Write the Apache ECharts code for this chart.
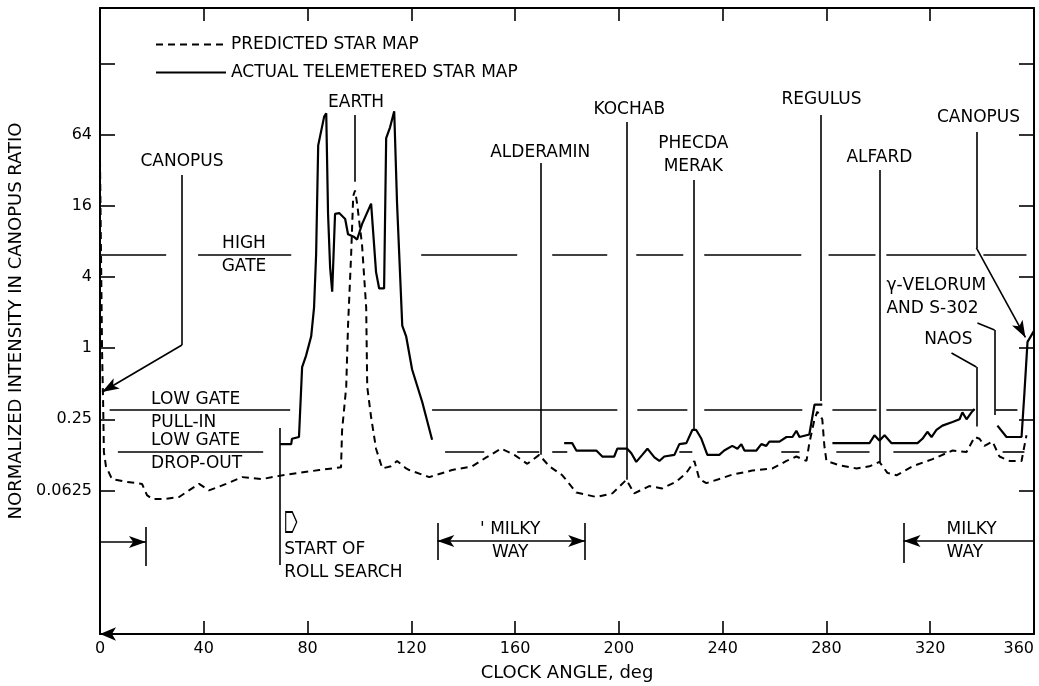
<!DOCTYPE html>
<html>
<head>
<meta charset="utf-8">
<script src="https://cdn.jsdelivr.net/npm/echarts@6/dist/echarts.min.js"></script>
<style>html,body{margin:0;padding:0;background:#fff}#main{width:1039px;height:686px}</style>
</head>
<body>
<div id="main"></div>
<script>
// clock angle (deg) and intensity (Canopus ratio)
var predictedDeg = [0, 0.8, 1.2, 1.5, 2.3, 4.6, 10.0, 16.2, 18.1, 20.1, 25.5, 30.5, 34.3, 38.2, 42.0, 48.6, 54.8, 62.5, 69.0, 76.7,
	84.5, 92.9, 93.3, 94.9, 95.6, 96.8, 97.6, 98.3, 99.1, 101.0, 102.6, 103.0, 104.5, 106.4, 108.8, 112.2, 114.5, 118.0, 119.2, 126.9,
	135.7, 143.5, 148.9, 154.6, 159.7, 164.7, 169.3, 173.2, 178.2, 183.6, 191.3, 197.5, 202.9, 205.9, 211.7, 216.7, 222.1, 226.0, 229.1, 231.0,
	233.7, 238.7, 243.7, 251.4, 259.2, 264.6, 268.4, 272.3, 273.4, 275.4, 276.5, 278.4, 279.2, 280.0, 285.0, 291.6, 296.6, 300.4, 303.5, 307.0,
	313.2, 320.9, 328.6, 334.0, 337.1, 339.0, 340.9, 344.0, 346.7, 350.6, 355.2, 356.3, 357.1];
var predictedVal = [39, 0.92, 0.35, 0.132, 0.100, 0.078, 0.074, 0.071, 0.057, 0.053, 0.053, 0.055, 0.0625, 0.071, 0.0625, 0.071, 0.081, 0.078, 0.083, 0.088,
	0.093, 0.098, 0.20, 0.47, 1.55, 6.2, 19.4, 21.6, 16.7, 7.5, 2.2, 0.47, 0.26, 0.141, 0.096, 0.100, 0.111, 0.096, 0.093, 0.081,
	0.093, 0.100, 0.119, 0.141, 0.125, 0.105, 0.125, 0.100, 0.084, 0.060, 0.055, 0.059, 0.077, 0.059, 0.068, 0.065, 0.074, 0.088, 0.111, 0.078,
	0.072, 0.078, 0.085, 0.092, 0.096, 0.111, 0.121, 0.111, 0.157, 0.25, 0.29, 0.25, 0.149, 0.111, 0.102, 0.096, 0.100, 0.109, 0.088, 0.084,
	0.100, 0.115, 0.136, 0.132, 0.177, 0.171, 0.149, 0.162, 0.121, 0.111, 0.111, 0.149, 0.183];

var actualDeg = [69.4, 73.7, 74.0, 76.7, 77.9, 79.4, 81.4, 82.5, 83.3, 84.1, 86.4, 87.2, 87.9, 88.7, 89.5, 90.6, 92.2, 94.5, 95.6, 98.0,
	99.1, 101.0, 104.5, 106.4, 107.6, 109.5, 110.3, 111.8, 113.4, 114.5, 116.5, 118.0, 120.3, 124.2, 128.0,
	150,
	178.9, 182.0, 183.6, 191.3, 193.6, 198.2, 199.4, 203.2, 204.8, 206.7, 209.0, 211.0, 213.7, 215.6, 217.5, 221.4, 223.3, 226.0, 228.3, 229.8,
	231.8, 234.1, 238.7, 240.6, 243.7, 245.7, 247.2, 248.4, 253.0, 254.9, 256.8, 258.0, 261.9, 264.6, 266.9, 268.4, 269.6, 273.4, 275.4, 278.4,
	280.5,
	282.3, 296.6, 298.5, 300.4, 302.4, 305.1, 315.1, 317.0, 318.9, 320.5, 322.4, 324.7, 328.6, 331.3, 332.4, 334.0, 335.9, 337.1,
	341,
	345.9, 349.4, 355.2, 356.3, 357.5, 360];
var actualVal = [0.154, 0.154, 0.171, 0.177, 0.69, 0.86, 1.26, 2.2, 6.2, 52, 91, 97, 13.7, 4.8, 3.0, 13.7, 13.9, 12.4, 9.2, 8.7,
	8.3, 11.2, 16.7, 4.4, 3.2, 3.2, 60, 74, 101, 16.7, 1.55, 1.26, 0.66, 0.35, 0.168,
	null,
	0.157, 0.157, 0.136, 0.136, 0.121, 0.121, 0.141, 0.141, 0.129, 0.109, 0.125, 0.141, 0.119, 0.111, 0.121, 0.125, 0.154, 0.157, 0.203, 0.203,
	0.171, 0.125, 0.125, 0.136, 0.149, 0.141, 0.154, 0.136, 0.136, 0.154, 0.149, 0.162, 0.162, 0.177, 0.177, 0.200, 0.177, 0.186, 0.333, 0.333,
	null,
	0.157, 0.157, 0.183, 0.165, 0.183, 0.157, 0.157, 0.171, 0.196, 0.177, 0.203, 0.221, 0.237, 0.25, 0.286, 0.25, 0.286, 0.306,
	null,
	0.221, 0.177, 0.177, 0.415, 1.13, 1.40];

var yTicks = [0.0625, 0.25, 1, 4, 16, 64, 256];
var yLabels = [0.0625, 0.25, 1, 4, 16, 64];

// gate levels and the pieces of each gate line (deg)
var highGate = 6.2, pullIn = 0.30, dropOut = 0.134;
var highGateSeg = [[0, 25.5], [37.8, 73.7], [123.8, 160.8], [174.3, 195.5], [206.7, 224.8], [232.9, 270.3], [280.8, 298.9], [303.1, 337.4], [340.5, 357.1]];
var pullInSeg = [[3.7, 73.3], [128, 199.4], [207.1, 226.4], [232.9, 270.7], [282.3, 299.3], [303.1, 337], [345.2, 353.6]];
var dropOutSeg = [[6.9, 62.9], [133, 148.1], [160.8, 169.3], [174.3, 180.1], [223.3, 228.3], [262.6, 269.6], [283.8, 296.6], [305.8, 326.3], [347.9, 356.3]];

// annotations: points as [deg, log4(intensity)]
var pointers = [
	{pts: [[31.6, 2.434], [31.6, 0.044], [0.8, -0.617]], arrow: true},
	{pts: [[98.3, 3.277], [98.3, 2.338]]},
	{pts: [[169.7, 2.602], [169.7, -1.5]]},
	{pts: [[203.2, 3.179], [203.2, -1.85]]},
	{pts: [[228.7, 2.363], [228.7, -1.15]]},
	{pts: [[277.7, 3.277], [277.7, -0.744]]},
	{pts: [[300.4, 2.504], [300.4, -1.6]]},
	{pts: [[337.8, 3.038], [337.8, 1.408], [356.7, 0.15]], arrow: true},
	{pts: [[338.2, 0.353], [344.8, 0.255], [344.8, -0.939]]},
	{pts: [[328.2, -0.068], [337.8, -0.265], [337.8, -1.1]]},
	{pts: [[69.4, -1.123], [69.4, -3.049]]},
	{pts: [[17.7, -2.515], [17.7, -3.063]]},
	{pts: [[0, -2.726], [17.7, -2.726]], arrow: true},
	{pts: [[130, -2.458], [130, -2.979]]},
	{pts: [[187, -2.458], [187, -2.979]]},
	{pts: [[130, -2.712], [187, -2.712]], arrow: true, both: true},
	{pts: [[309.7, -2.458], [309.7, -3.021]]},
	{pts: [[360, -2.712], [309.7, -2.712]], arrow: true}
];
var notes = [
	['CANOPUS', 31.6, 2.617, 'center'],
	['HIGH\nGATE', 55.5, 1.314, 'center'],
	['LOW GATE\nPULL-IN', 19.7, -0.89, 'left'],
	['LOW GATE\nDROP-OUT', 19.7, -1.46, 'left'],
	['EARTH', 98.7, 3.446, 'center'],
	['ALDERAMIN', 169.7, 2.743, 'center'],
	['KOCHAB', 204.0, 3.347, 'center'],
	['PHECDA\nMERAK', 228.7, 2.715, 'center'],
	['REGULUS', 278.1, 3.488, 'center'],
	['ALFARD', 300.4, 2.673, 'center'],
	['CANOPUS', 338.6, 3.235, 'center'],
	['γ-VELORUM\nAND S-302', 303.1, 0.719, 'left'],
	['NAOS', 327.0, 0.115, 'center'],
	['START OF\nROLL SEARCH', 71.0, -2.992, 'left'],
	["' MILKY\nWAY", 158.1, -2.712, 'center'],
	['MILKY\nWAY', 326.3, -2.712, 'left']
];
var rollMark = [73.7, -2.444];

var FONT = 'DejaVu Sans';
function p4(L) { return Math.pow(4, L); }
function pt(p) { return [p[0], p4(p[1])]; }

var predicted = predictedDeg.map(function (d, i) { return [d, predictedVal[i]]; });
var actual = actualDeg.map(function (d, i) { return [d, actualVal[i] == null ? '-' : actualVal[i]]; });

var lines = [];
function gate(segs, v) {
	segs.forEach(function (s) {
		lines.push([{coord: [s[0], v]}, {coord: [s[1], v]}]);
	});
}
gate(highGateSeg, highGate);
gate(pullInSeg, pullIn);
gate(dropOutSeg, dropOut);
var arrowSize = [9, 17];
pointers.forEach(function (p) {
	for (var i = 0; i < p.pts.length - 1; i++) {
		var a = {coord: pt(p.pts[i])}, b = {coord: pt(p.pts[i + 1])};
		if (p.arrow && i === p.pts.length - 2) {
			b.symbol = 'arrow'; b.symbolSize = arrowSize;
			if (p.both) { a.symbol = 'arrow'; a.symbolSize = arrowSize; }
		}
		lines.push([a, b]);
	}
});

var points = notes.map(function (n) {
	return {
		coord: [n[1], p4(n[2])],
		label: {formatter: n[0], align: n[3]}
	};
});
points.push({
	coord: pt(rollMark),
	symbol: 'path://M0 0 L6 0 L10 5 L6 10 L0 10 Z',
	symbolSize: [11, 20],
	itemStyle: {color: '#fff', borderColor: '#000', borderWidth: 1.5},
	label: {show: false}
});

var yMin = p4(-4.018), yMax = p4(4.781);

function yAxisCfg(pos, showLabel) {
	return {
		type: 'log',
		logBase: 4,
		position: pos,
		min: yMin,
		max: yMax,
		name: showLabel ? 'NORMALIZED INTENSITY IN CANOPUS RATIO' : '',
		nameLocation: 'middle',
		nameGap: 72,
		nameTextStyle: {color: '#000', fontSize: 18, fontFamily: FONT},
		axisLine: {show: true, onZero: false, lineStyle: {color: '#000', width: 2}},
		axisTick: {show: true, inside: true, length: 15, customValues: yTicks, lineStyle: {color: '#000', width: 1.6}},
		axisLabel: {
			show: showLabel,
			customValues: yLabels,
			margin: 8,
			color: '#000',
			fontSize: 16,
			fontFamily: FONT,
			formatter: function (v) { return String(+Number(v).toPrecision(4)); }
		},
		splitLine: {show: false}
	};
}
function xAxisCfg(pos, showLabel) {
	return {
		type: 'value',
		position: pos,
		min: 0,
		max: 360,
		interval: 40,
		name: showLabel ? 'CLOCK ANGLE, deg' : '',
		nameLocation: 'middle',
		nameGap: 30,
		nameTextStyle: {color: '#000', fontSize: 18, fontFamily: FONT},
		axisLine: {
			show: true, onZero: false,
			symbol: showLabel ? ['arrow', 'none'] : ['none', 'none'],
			symbolSize: [10, 16],
			symbolOffset: [0, 0],
			lineStyle: {color: '#000', width: 2}
		},
		axisTick: {show: true, inside: true, length: 13, lineStyle: {color: '#000', width: 1.6}},
		axisLabel: {show: showLabel, margin: 7, color: '#000', fontSize: 16, fontFamily: FONT, alignMaxLabel: 'right'},
		splitLine: {show: false}
	};
}

var option = {
	animation: false,
	backgroundColor: '#fff',
	grid: {left: 100, right: 5, top: 8, bottom: 52, containLabel: false, outerBoundsMode: 'none'},
	legend: {
		data: ['PREDICTED STAR MAP', 'ACTUAL TELEMETERED STAR MAP'],
		orient: 'vertical',
		left: 150,
		top: 31,
		itemWidth: 70,
		itemHeight: 14,
		itemGap: 11,
		selectedMode: false,
		itemStyle: {opacity: 0},
		textStyle: {color: '#000', fontSize: 17, fontFamily: FONT}
	},
	xAxis: [xAxisCfg('bottom', true), xAxisCfg('top', false)],
	yAxis: [yAxisCfg('left', true), yAxisCfg('right', false)],
	series: [{
		name: 'PREDICTED STAR MAP',
		type: 'line',
		data: predicted,
		symbol: 'none',
		color: '#000',
		lineStyle: {color: '#000', width: 2, type: [7, 5]},
		z: 3
	}, {
		name: 'ACTUAL TELEMETERED STAR MAP',
		type: 'line',
		data: actual,
		symbol: 'none',
		connectNulls: false,
		color: '#000',
		lineStyle: {color: '#000', width: 2.2},
		z: 4
	}, {
		name: 'notes',
		type: 'line',
		data: [],
		symbol: 'none',
		silent: true,
		markLine: {
			silent: true,
			symbol: ['none', 'none'],
			label: {show: false},
			lineStyle: {color: '#000', width: 1.6, type: 'solid'},
			emphasis: {disabled: true},
			data: lines
		},
		markPoint: {
			silent: true,
			symbol: 'rect',
			symbolSize: 1,
			itemStyle: {color: 'rgba(0,0,0,0)'},
			label: {show: true, position: 'inside', color: '#000', fontSize: 17, fontFamily: FONT, lineHeight: 23},
			emphasis: {disabled: true},
			data: points
		}
	}]
};

echarts.init(document.getElementById('main')).setOption(option);
</script>
</body>
</html>
